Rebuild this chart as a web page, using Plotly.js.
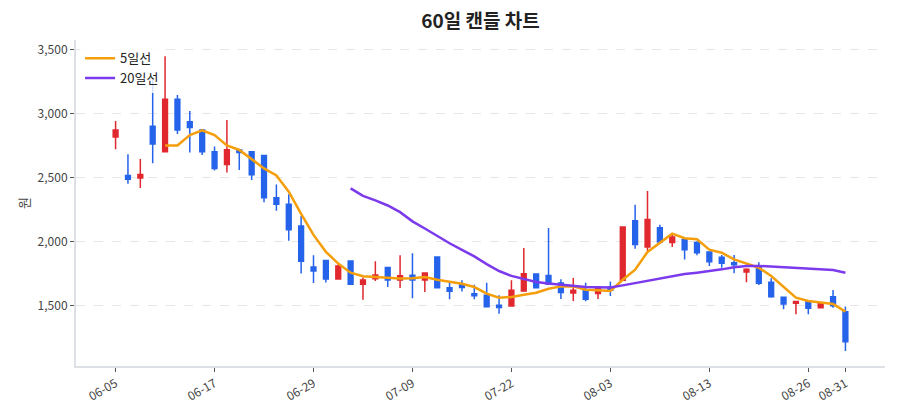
<!DOCTYPE html>
<html>
<head>
<meta charset="utf-8">
<script src="https://cdn.plot.ly/plotly-3.0.1.min.js"></script>
<style>
  html, body { margin: 0; padding: 0; background: #fff; }
  #chart { width: 900px; height: 420px; }
</style>
</head>
<body>
<div id="chart"></div>
<script>
// === 데이터 ===
const dates = [
    '06-05', '06-06', '06-07', '06-10', '06-11', '06-12', '06-13', '06-14', '06-17',
    '06-18', '06-19', '06-20', '06-21', '06-24', '06-25', '06-27', '06-29',
    '07-01', '07-02', '07-03', '07-04', '07-05', '07-07', '07-08', '07-09',
    '07-10', '07-11', '07-12', '07-15', '07-16', '07-17', '07-19', '07-22',
    '07-23', '07-24', '07-25', '07-26', '07-29', '07-30', '08-01', '08-03',
    '08-05', '08-06', '08-07', '08-08', '08-09', '08-11', '08-12', '08-13',
    '08-14', '08-16', '08-19', '08-20', '08-21', '08-22', '08-23', '08-26',
    '08-27', '08-29', '08-31'
];

const openPrices = [
    2815, 2514, 2494, 2900, 2700, 3110, 2935, 2870, 2700, 2600,
    2714, 2700, 2670, 2340, 2290, 2120, 1800, 1850, 1705, 1847,
    1665, 1707, 1795, 1697, 1735, 1697, 1878, 1638, 1660, 1590,
    1578, 1500, 1495, 1612, 1745, 1734, 1675, 1597, 1617, 1592,
    1643, 1695, 2160, 1956, 2107, 1990, 2015, 1990, 1917, 1875,
    1833, 1760, 1802, 1680, 1563, 1516, 1530, 1482, 1568, 1450
];
const highPrices = [
    2940, 2680, 2644, 3265, 3447, 3143, 3018, 2878, 2740, 2948,
    2720, 2706, 2670, 2445, 2367, 2197, 1892, 1852, 1821, 1847,
    1717, 1845, 1800, 1892, 1907, 1755, 1878, 1674, 1695, 1661,
    1677, 1578, 1695, 1948, 1745, 2104, 1703, 1714, 1677, 1635,
    1687, 2112, 2286, 2393, 2130, 2060, 2016, 2000, 1919, 1893,
    1893, 1789, 1836, 1711, 1563, 1530, 1542, 1516, 1620, 1490
];
const lowPrices = [
    2720, 2449, 2416, 2610, 2700, 2839, 2694, 2675, 2553, 2538,
    2558, 2480, 2305, 2239, 2004, 1748, 1675, 1678, 1704, 1664,
    1544, 1690, 1644, 1636, 1555, 1604, 1635, 1547, 1609, 1547,
    1487, 1435, 1495, 1612, 1635, 1664, 1550, 1534, 1531, 1549,
    1573, 1695, 1943, 1922, 1982, 1956, 1859, 1891, 1808, 1794,
    1750, 1680, 1659, 1560, 1469, 1430, 1430, 1482, 1482, 1143
];
const closePrices = [
    2870, 2485, 2522, 2760, 3110, 2870, 2890, 2700, 2570, 2715,
    2695, 2520, 2340, 2290, 2090, 1845, 1768, 1705, 1808, 1665,
    1697, 1737, 1697, 1732, 1697, 1752, 1637, 1610, 1640, 1575,
    1488, 1483, 1617, 1747, 1637, 1665, 1600, 1617, 1548, 1630,
    1620, 2112, 1975, 2170, 1995, 2034, 1935, 1910, 1840, 1828,
    1817, 1781, 1672, 1568, 1510, 1530, 1478, 1516, 1497, 1215
];

// 이동평균선
const ma5 = [
    null, null, null, null, 2749, 2749, 2831, 2868, 2830, 2749,
    2714, 2645, 2570, 2515, 2388, 2215, 2050, 1918, 1826, 1755,
    1727, 1722, 1717, 1709, 1711, 1721, 1700, 1685, 1669, 1643,
    1591, 1560, 1565, 1583, 1599, 1630, 1648, 1648, 1622, 1617,
    1612, 1700, 1779, 1917, 1987, 2060, 2024, 2016, 1935, 1911,
    1859, 1828, 1794, 1729, 1646, 1560, 1534, 1523, 1510, 1451
];
const ma20 = [
    null, null, null, null, null, null, null, null, null, null,
    null, null, null, null, null, null, null, null, null, 2414,
    2355, 2320, 2280, 2228, 2156, 2100, 2042, 1985, 1933, 1882,
    1822, 1768, 1730, 1705, 1683, 1670, 1660, 1652, 1644, 1641,
    1640, 1656, 1674, 1695, 1712, 1729, 1744, 1755, 1767, 1781,
    1797, 1808, 1808, 1802, 1797, 1792, 1786, 1781, 1776, 1755
];

const tickDates = ['06-05', '06-17', '06-29', '07-09', '07-22', '08-03', '08-13', '08-26', '08-31'];

// === 차트 ===
const FONT = '"Noto Sans CJK KR", "Noto Sans", sans-serif';

const candle = {
    type: 'candlestick',
    x: dates,
    open: openPrices,
    high: highPrices,
    low: lowPrices,
    close: closePrices,
    increasing: { line: { color: '#e0282e', width: 1.5 }, fillcolor: '#e0282e' },
    decreasing: { line: { color: '#2563eb', width: 1.5 }, fillcolor: '#2563eb' },
    whiskerwidth: 0,
    showlegend: false,
    hoverinfo: 'x+y'
};

const line5 = {
    type: 'scatter',
    mode: 'lines',
    x: dates,
    y: ma5,
    name: '5일선',
    line: { color: '#f59e0b', width: 2.5 }
};

const line20 = {
    type: 'scatter',
    mode: 'lines',
    x: dates,
    y: ma20,
    name: '20일선',
    line: { color: '#7c3aed', width: 2.5 }
};

const layout = {
    width: 900,
    height: 420,
    margin: { l: 76, r: 15, t: 40, b: 54 },
    paper_bgcolor: '#ffffff',
    plot_bgcolor: '#ffffff',
    font: { family: FONT, size: 12, color: '#444' },
    title: {
        text: '<b>60일 캔들 차트</b>',
        x: 0.5,
        xref: 'paper',
        y: 0.948,
        yref: 'container',
        yanchor: 'middle',
        font: { family: FONT, size: 19, color: '#222' }
    },
    boxgap: 0.45,
    xaxis: {
        type: 'category',
        range: [-3.2, 62.2],
        tickvals: tickDates,
        ticktext: tickDates,
        tickangle: -30,
        ticks: 'outside',
        ticklen: 4,
        tickcolor: '#555',
        tickfont: { size: 12, color: '#444' },
        showgrid: false,
        showline: true,
        linecolor: '#dde1e6',
        linewidth: 2,
        rangeslider: { visible: false },
        fixedrange: true
    },
    yaxis: {
        range: [1026, 3573],
        dtick: 500,
        tick0: 0,
        tickformat: ',',
        ticks: 'outside',
        ticklen: 4,
        tickcolor: '#555',
        tickfont: { size: 12, color: '#444' },
        showgrid: true,
        gridcolor: '#e6e6e6',
        griddash: 'dash',
        zeroline: false,
        showline: true,
        linecolor: '#dde1e6',
        linewidth: 2,
        title: { text: '원', font: { size: 13, color: '#444' }, standoff: 5 }
    },
    showlegend: true,
    legend: {
        x: 0.005,
        y: 0.99,
        xanchor: 'left',
        yanchor: 'top',
        bgcolor: 'rgba(255,255,255,0.8)',
        borderwidth: 0,
        font: { size: 13, color: '#222' },
        tracegroupgap: 4
    }
};

Plotly.newPlot('chart', [candle, line5, line20], layout, { displayModeBar: false, staticPlot: true });
</script>
</body>
</html>
